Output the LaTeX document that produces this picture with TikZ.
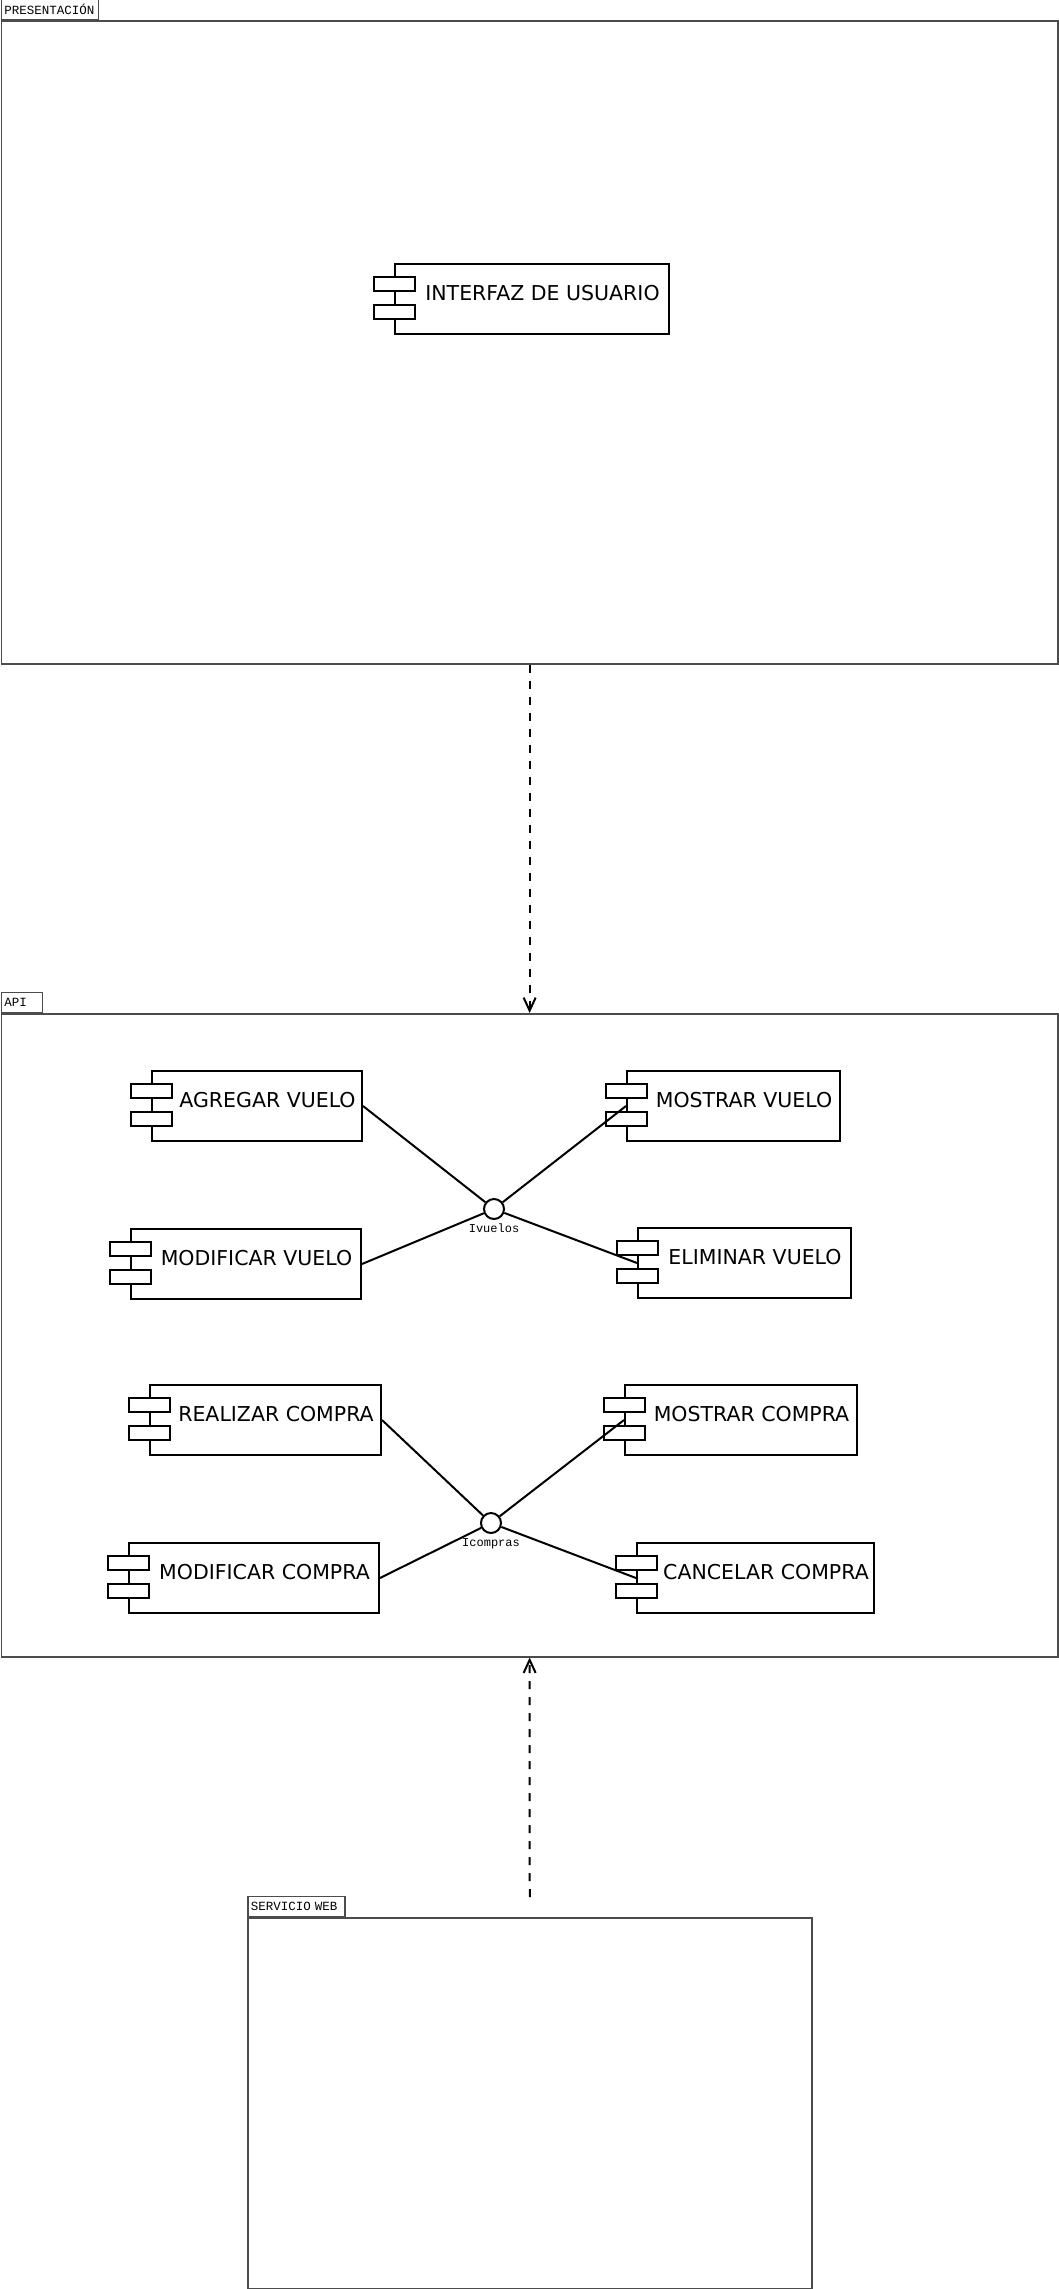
\documentclass[tikz,border=0pt]{standalone}
\usepackage{fontspec}
\usetikzlibrary{arrows.meta,positioning}
\newfontfamily\compfont{DejaVu Sans}
\newfontfamily\pkgfont{Liberation Mono}
\definecolor{pkggray}{gray}{.3}
\newcommand{\slotw}{41}
\newcommand{\slotoff}{20}
\tikzset{
    pkg/.style={draw=pkggray, line width=1.5pt, rectangle, anchor=north west, inner sep=0pt},
    tab/.style={pkg, anchor=south west, minimum height=20pt, inner xsep=3pt, text width=#1,
        align=left, font=\pkgfont\fontsize{12.5}{14}\selectfont},
    comp/.style={draw, line width=2pt, rectangle, anchor=north west, minimum height=70pt, inner sep=0pt, fill=white},
    comptext/.style={inner sep=0pt, font=\compfont\fontsize{20.5}{24}\selectfont},
    slot/.style={draw, line width=2pt, fill=white},
    iface/.style={draw, line width=2pt, circle, fill=white, minimum size=20pt, inner sep=0pt},
    ifacetext/.style={inner sep=0pt, font=\pkgfont\fontsize{12}{14}\selectfont},
    link/.style={line width=2pt},
    dep/.style={line width=2pt, dash pattern=on 8pt off 8pt, -{Straight Barb[length=13pt,width=12pt]}}
}
% component: name, x, y, width, text
\newcommand{\compnode}[5]{%
    \node[comp, minimum width=#4] (#1) at (#2,#3) {};
    \node[comptext] (#1-text) at ([shift={(10.5,-6)}]#1.center) {#5};
    \draw[slot] ([shift={(-\slotoff,14)}]#1.north west) rectangle ++(\slotw,14)
                ([shift={(-\slotoff,42)}]#1.north west) rectangle ++(\slotw,14);
}
\begin{document}
\begin{tikzpicture}[x=1pt, y=-1pt]
    \useasboundingbox (0,0) rectangle (1058,2289);

    % packages
    \node[pkg, minimum width=1056.25pt, minimum height=643pt] (pres) at (0.75,20) {};
    \node[tab=91pt] (pres-tab) at (pres.north west) {PRESENTACIÓN};
    \node[pkg, minimum width=1056.25pt, minimum height=643pt] (api) at (0.75,1013) {};
    \node[tab=35pt] (api-tab) at (api.north west) {API};
    \node[pkg, minimum width=564pt, minimum height=371pt] (web) at (247,1917) {};
    \node[tab=91pt] (web-tab) at (web.north west) {SERVICIO WEB};
    \coordinate (web-top) at ([yshift=20pt]web.north);

    % components
    \compnode{interfaz}{394}{263}{274pt}{INTERFAZ DE USUARIO}
    \compnode{agregar}{151}{1070}{210pt}{AGREGAR VUELO}
    \compnode{modvuelo}{130}{1228}{230pt}{MODIFICAR VUELO}
    \compnode{mostvuelo}{626}{1070}{213pt}{MOSTRAR VUELO}
    \compnode{eliminar}{637}{1227}{213pt}{ELIMINAR VUELO}
    \compnode{realizar}{149}{1384}{231pt}{REALIZAR COMPRA}
    \compnode{modcompra}{128}{1542}{250pt}{MODIFICAR COMPRA}
    \compnode{mostcompra}{624}{1384}{232pt}{MOSTRAR COMPRA}
    \compnode{cancelar}{636}{1542}{237pt}{CANCELAR COMPRA}

    % interfaces
    \node[iface] (ivuelos) at (494,1209) {};
    \node[ifacetext, below=4pt of ivuelos] (ivuelos-text) {Ivuelos};
    \node[iface] (icompras) at (491,1523) {};
    \node[ifacetext, below=4pt of icompras] (icompras-text) {Icompras};

    \draw[link] (agregar.east) -- (ivuelos);
    \draw[link] (modvuelo.east) -- (ivuelos);
    \draw[link] (ivuelos) -- (mostvuelo.west);
    \draw[link] (ivuelos) -- (eliminar.west);
    \draw[link] (realizar.east) -- (icompras);
    \draw[link] (modcompra.east) -- (icompras);
    \draw[link] (icompras) -- (mostcompra.west);
    \draw[link] (icompras) -- (cancelar.west);

    % dependencies
    \draw[dep] (pres.south) -- (api.north);
    \draw[dep] (web-top) -- (api.south);
\end{tikzpicture}
\end{document}
